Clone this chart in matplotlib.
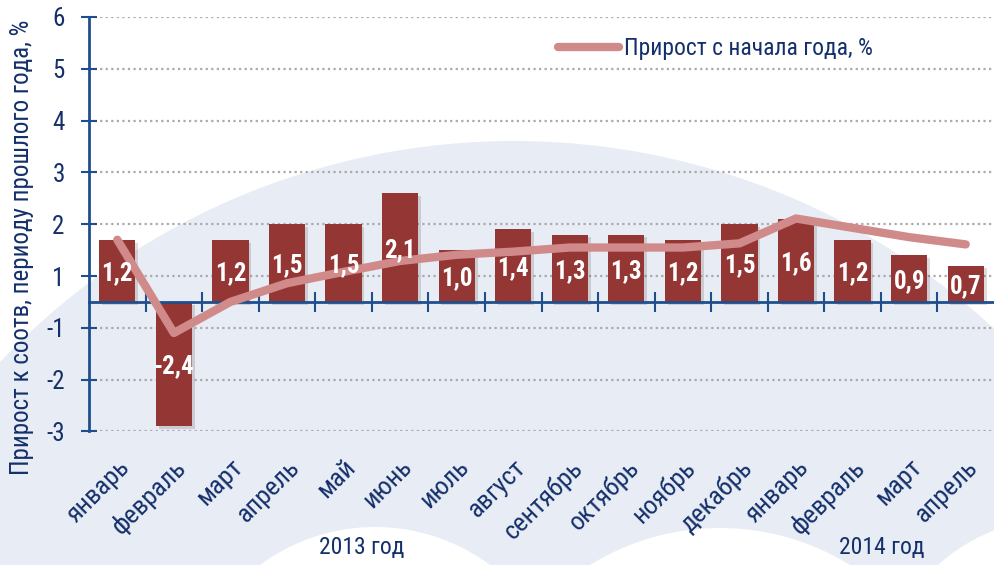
import matplotlib
matplotlib.use("Agg")
import matplotlib.pyplot as plt
import matplotlib.patheffects as pe
from matplotlib import font_manager
from matplotlib.patches import Circle

# ------------------------------------------------------------------ #
#  Data
# ------------------------------------------------------------------ #
months = ["январь", "февраль", "март", "апрель", "май", "июнь", "июль",
          "август", "сентябрь", "октябрь", "ноябрь", "декабрь",
          "январь", "февраль", "март", "апрель"]
monthly = [1.2, -2.4, 1.2, 1.5, 1.5, 2.1, 1.0, 1.4, 1.3, 1.3, 1.2, 1.5,
           1.6, 1.2, 0.9, 0.7]
ytd = [1.2, -0.6, 0.0, 0.36, 0.58, 0.79, 0.91, 0.97, 1.05, 1.05, 1.05, 1.13,
       1.61, 1.43, 1.25, 1.11]
ytick_pos = [-2, -1, 0, 1, 2, 3, 4, 5, 6]
ytick_labels = ["-3", "-2", "-1", "1", "2", "3", "4", "5", "6"]
years = ["2013 год", "2014 год"]
line_label = "Прирост с начала года, %"
y_title = "Прирост к соотв, периоду прошлого года, %"

BASE = 0.5  # bars grow from the axis drawn between the "1" and "-1" ticks

available = {f.name for f in font_manager.fontManager.ttflist}
narrow = next((n for n in ["Liberation Sans Narrow", "Roboto Condensed",
                           "Liberation Sans"] if n in available), "DejaVu Sans")
plt.rcParams["font.family"] = [narrow, "DejaVu Sans"]

NAVY = "#14306b"
AXIS = "#1f4e8c"
BAR = "#943634"
LINE = "#d08a8a"
BG = "#e8ecf4"

fig = plt.figure(figsize=(9.94, 5.65), dpi=100)

# decorative background shapes (pixel coordinates)
bg = fig.add_axes([0, 0, 1, 1], zorder=0)
bg.set_xlim(0, 994)
bg.set_ylim(565, 0)
bg.axis("off")
bg.add_patch(Circle((514, 849), 708, color=BG, lw=0))
for c, r in [((375, 720), 193), ((720, 775), 247), ((1060, 700), 182)]:
    bg.add_patch(Circle(c, r, color="white", lw=0))

ax = fig.add_axes([89 / 994, (565 - 431.4) / 565, 1 - 89 / 994, (431.4 - 17) / 565],
                  zorder=1)
ax.patch.set_alpha(0)

x = list(range(len(months)))
bars = ax.bar(x, monthly, bottom=BASE, width=0.64, color=BAR, zorder=2)
for b in bars:
    b.set_path_effects([pe.SimplePatchShadow(offset=(2, -2), alpha=0.15),
                        pe.Normal()])

ax.plot(x, [v + BASE for v in ytd], color=LINE, lw=6, solid_capstyle="round",
        solid_joinstyle="round", zorder=3, label=line_label)

for xi, v in zip(x, monthly):
    ax.text(xi, BASE + v / 2 - 0.05, f"{v:.1f}".replace(".", ","),
            ha="center", va="center", color="white", fontsize=18,
            fontweight="bold", zorder=4)

ax.set_xlim(-0.5, len(months) - 0.5)
ax.set_ylim(-2, 6)

ax.spines["top"].set_visible(False)
ax.spines["right"].set_visible(False)
ax.spines["left"].set_color(AXIS)
ax.spines["left"].set_linewidth(2)
ax.spines["bottom"].set_position(("data", BASE))
ax.spines["bottom"].set_color(AXIS)
ax.spines["bottom"].set_linewidth(2)

ax.set_xticks([])
ax.set_xticks([i + 0.5 for i in range(len(months) - 1)], minor=True)
ax.tick_params(axis="x", which="minor", direction="inout", length=14,
               width=1.5, color=AXIS)

ax.set_yticks(ytick_pos, ytick_labels)
ax.tick_params(axis="y", direction="inout", length=11, width=1.5, color=AXIS,
               labelcolor=NAVY, labelsize=18, pad=12)
ax.grid(axis="y", ls=(0, (1, 1.5)), color="#aaaaaa", lw=1.6)
ax.set_axisbelow(True)

sec = ax.secondary_xaxis("bottom")
sec.set_xticks(x, months, rotation=45, ha="right", rotation_mode="anchor")
sec.tick_params(length=0, pad=17, labelcolor=NAVY, labelsize=19)
sec.spines["bottom"].set_visible(False)

leg = ax.legend(loc="center left", bbox_to_anchor=(558 / 994, 1 - 49 / 565),
                bbox_transform=fig.transFigure, frameon=False, fontsize=17,
                handlelength=2.6, handletextpad=0.2, borderpad=0,
                borderaxespad=0)
for t in leg.get_texts():
    t.set_color(NAVY)

fig.text(22 / 994, 1 - 247 / 565, y_title, rotation=90, ha="center",
         va="center", fontsize=18, color=NAVY)
for xp, label in zip([362, 882], years):
    fig.text(xp / 994, 1 - 548 / 565, label, ha="center", va="center",
             fontsize=17, color=NAVY)

fig.savefig("out.png", dpi=100)
